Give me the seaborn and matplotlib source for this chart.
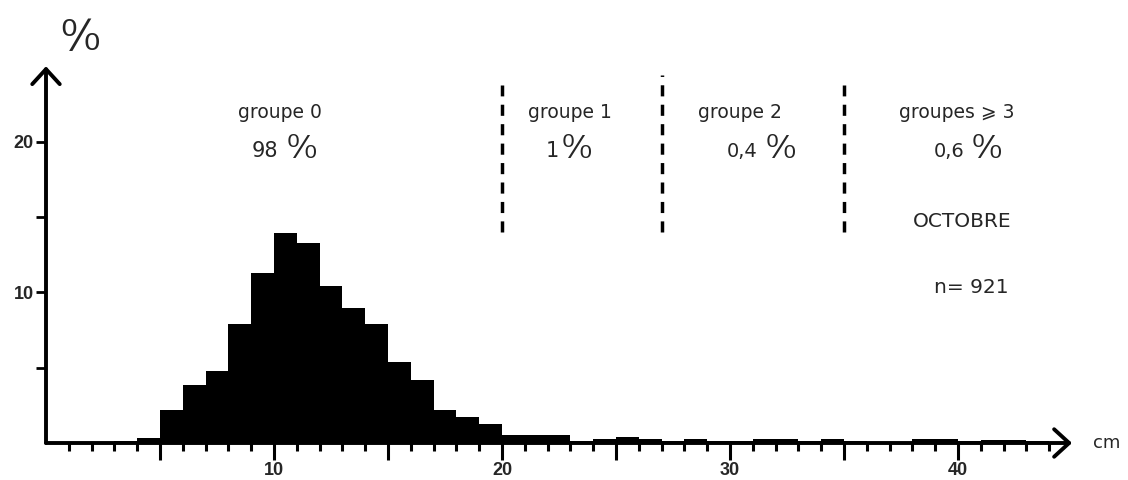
import numpy as np
import pandas as pd
import matplotlib
matplotlib.use("Agg")
import matplotlib.pyplot as plt
import seaborn as sns

# ---------------- data ----------------
bin_left_cm = list(range(3, 44))
percent = [0.1, 0.3, 2.2, 3.85, 4.8, 7.9, 11.3, 13.95, 13.3, 10.4, 8.95, 7.9, 5.4, 4.2, 2.2, 1.7, 1.25,
           0.5, 0.5, 0.5, 0.1, 0.25, 0.4, 0.25, 0.1, 0.25, 0.1, 0.1, 0.25, 0.25, 0.1, 0.27, 0.1,
           0.08, 0.08, 0.25, 0.25, 0.15, 0.2, 0.2, 0.1]
group_labels = ["groupe 0", "groupe 1", "groupe 2", "groupes ⩾ 3"]
group_shares = ["98", "1", "0,4", "0,6"]
group_bounds = [20, 27, 35]
month_label = "OCTOBRE"
n_label = "n= 921"
x_major = [5, 10, 15, 20, 25, 30, 35, 40]
x_labels = ["", "10", "", "20", "", "30", "", "40"]
x_minor = list(range(1, 45))
y_major = [5, 10, 15, 20]
y_labels = ["", "10", "", "20"]
PCT = "⁰⁄₀"   # old-style per-cent sign

# ---------------- style ----------------
sns.set_theme(style="white")
plt.rcParams["font.family"] = ["DejaVu Sans"]
TEXT_FONT = ["DejaVu Sans"]
TICK_FONT = ["Liberation Sans", "DejaVu Sans"]

fig = plt.figure(figsize=(11.28, 4.8), dpi=100)
ax = fig.add_axes([46 / 1128, 37 / 480, 1026 / 1128, 376.75 / 480])

df = pd.DataFrame({"cm": np.array(bin_left_cm, dtype=float) + 0.5, "pct": percent})
sns.histplot(data=df, x="cm", weights="pct", binwidth=1, binrange=(3, 44),
             color="black", alpha=1, edgecolor="black", linewidth=0, ax=ax)

ax.set_xlim(0, 45)
ax.set_ylim(0, 25)
ax.set_xlabel("")
ax.set_ylabel("")
for s in ax.spines.values():
    s.set_visible(False)

arrow = dict(arrowstyle="->,head_length=0.6,head_width=0.55", lw=2.8, color="black",
             shrinkA=0, shrinkB=0, mutation_scale=18)
ax.annotate("", xy=(45, 0), xytext=(0, 0), arrowprops=arrow, annotation_clip=False)
ax.annotate("", xy=(0, 25), xytext=(0, 0), arrowprops=arrow, annotation_clip=False)

ax.set_xticks(x_major, labels=x_labels)
ax.set_xticks(x_minor, minor=True)
ax.set_yticks(y_major, labels=y_labels)
ax.tick_params(axis="x", which="major", length=12, width=2.2, direction="out", labelsize=13, pad=2,
               bottom=True, color="black")
ax.tick_params(axis="x", which="minor", length=6, width=2.2, direction="out", bottom=True, color="black")
ax.tick_params(axis="y", which="major", length=7, width=2, direction="out", labelsize=13, pad=2,
               left=True, color="black")
for lab in ax.get_xticklabels() + ax.get_yticklabels():
    lab.set_fontweight("bold")
    lab.set_family(TICK_FONT)

# group separators
tops = [23.75, 24.4, 23.75]
for xb, top in zip(group_bounds, tops):
    ax.plot([xb, xb], [14.0, top], color="black", lw=2.5, linestyle=(0, (3.2, 2.4)),
            solid_capstyle="butt")

# group texts
name_x = [10.26, 22.98, 30.44, 39.96]
for lbl, xx in zip(group_labels, name_x):
    ax.text(xx, 21.9, lbl, ha="center", va="center", fontsize=13.5, family=TEXT_FONT)

num_right_x = [10.18, 22.5, 31.2, 40.28]
glyph_left_x = [10.55, 22.62, 31.55, 40.6]
num_size = [15, 15, 14, 14]
for share, xr, xg, fs in zip(group_shares, num_right_x, glyph_left_x, num_size):
    ax.text(xr, 18.98, share, ha="right", va="baseline", fontsize=fs, family=TEXT_FONT)
    ax.text(xg, 18.9, PCT, ha="left", va="baseline", fontsize=23, family=TEXT_FONT)

ax.text(40.2, 14.67, month_label, ha="center", va="center", fontsize=14.5, family=TEXT_FONT)
ax.text(40.57, 10.3, n_label, ha="center", va="center", fontsize=14.5, family=TEXT_FONT)
ax.text(45.9, 0, "cm", ha="left", va="center", fontsize=13, family=TEXT_FONT, clip_on=False)

# y-axis unit
fig.text(60 / 1128, 1 - 50 / 480, PCT, ha="left", va="baseline", fontsize=30, family=TEXT_FONT)

fig.savefig("out.png", dpi=100)
